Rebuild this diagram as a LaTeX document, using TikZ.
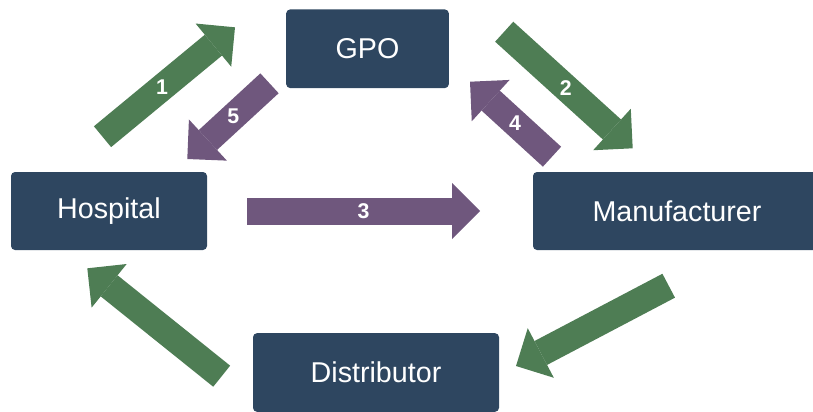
\documentclass[tikz,border=0pt]{standalone}
\usepackage{fontspec}
\setmainfont{Liberation Sans}
\usetikzlibrary{arrows.meta}
\definecolor{boxblue}{RGB}{46,70,96}
\definecolor{flowgreen}{RGB}{78,125,84}
\definecolor{flowpurple}{RGB}{111,87,125}
\tikzset{
	party/.style={rectangle, rounded corners=3pt, fill=boxblue, text=white,
		font=\fontsize{21.5}{24}\selectfont, inner sep=0pt},
	flow/.style={line width=20.25pt, -{Triangle[length=21pt, width=42pt, line width=0pt]}},
	num/.style={text=white, font=\bfseries\fontsize{16}{18}\selectfont, inner sep=0pt}
}
\begin{document}
\begin{tikzpicture}[x=0.75pt, y=-0.75pt]
		\clip (0,0) rectangle (813,411);
		\node[party, minimum width=122pt, minimum height=59pt] (gpo) at (367.5,48.75) {GPO};
		\node[party, minimum width=147pt, minimum height=58.5pt] (hospital) at (109,211) {Hospital};
		\node[party, minimum width=216pt, minimum height=58.5pt] (manufacturer) at (677,211) {Manufacturer};
		\node[party, minimum width=184.5pt, minimum height=59pt] (distributor) at (376,372.5) {Distributor};
		
		\coordinate (H1) at (102.5,136.7);
		\coordinate (G1) at (235,27.3);
		\coordinate (G5) at (269.5,83.3);
		\coordinate (H5) at (187.3,159);
		\coordinate (G2) at (504.2,31.7);
		\coordinate (M2) at (632.7,148.3);
		\coordinate (M4) at (552,156.7);
		\coordinate (G4) at (470,81.7);
		\coordinate (H3) at (247,211);
		\coordinate (M3) at (480,211);
		\coordinate (M6) at (668.7,285.7);
		\coordinate (D6) at (516,366);
		\coordinate (D7) at (221.7,376.2);
		\coordinate (H7) at (87.3,268.3);
		
		\draw[flow, flowgreen] (H1) -- node[num, pos=0.45]{1} (G1);
		\draw[flow, flowgreen] (G2) -- node[num, pos=0.48]{2} (M2);
		\draw[flow, flowpurple] (H3) -- node[num, pos=0.5]{3} (M3);
		\draw[flow, flowpurple] (M4) -- node[num, pos=0.45]{4} (G4);
		\draw[flow, flowpurple] (G5) -- node[num, pos=0.44]{5} (H5);
		\draw[flow, flowgreen] (M6) -- (D6);
		\draw[flow, flowgreen] (D7) -- (H7);
\end{tikzpicture}
\end{document}
